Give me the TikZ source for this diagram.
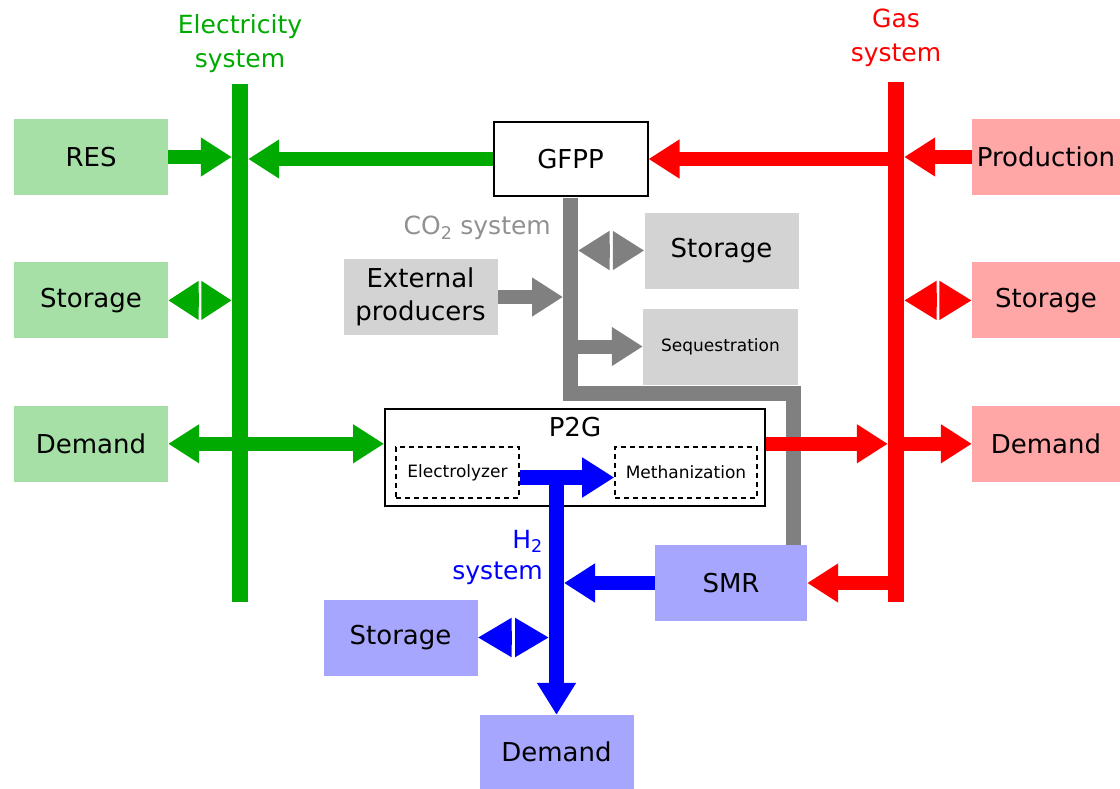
\documentclass[tikz,border=0pt]{standalone}
\usepackage{fontspec}
\setmainfont{DejaVu Sans}
\usetikzlibrary{positioning, calc, arrows.meta}
\definecolor{elgreen}{RGB}{0,170,0}
\definecolor{elbox}{RGB}{166,224,166}
\definecolor{gasred}{RGB}{255,0,0}
\definecolor{gasbox}{RGB}{255,166,166}
\definecolor{h2blue}{RGB}{0,0,255}
\definecolor{h2box}{RGB}{166,166,255}
\definecolor{co2gray}{RGB}{128,128,128}
\definecolor{co2box}{RGB}{211,211,211}
\definecolor{co2text}{RGB}{145,145,145}

\begin{document}
\begin{tikzpicture}
        [
            x=1pt, y=-1pt,
            box/.style={rectangle, minimum width=154pt, minimum height=76pt,
                        inner sep=0pt, font=\fontsize{26}{33}\selectfont},
            unit/.style={box, draw, line width=2pt, fill=white},
            sub/.style={rectangle, draw, dash pattern=on 5pt off 4pt, line width=1.6pt,
                        inner sep=0pt, minimum height=51pt, font=\fontsize{17}{20}\selectfont},
            bus/.style={rectangle, minimum width=16pt, inner sep=0pt},
            sys/.style={align=center, inner sep=0pt, font=\fontsize{25}{34}\selectfont},
            flow/.style={line width=14pt, -{Triangle[length=31pt, width=37pt]}},
            both/.style={line width=14pt, {Triangle[length=31pt, width=37pt]}-{Triangle[length=31pt, width=37pt]}}
        ]
        \useasboundingbox (0,0) rectangle (1120,788);
        % electricity
        \node (elbus) [bus, fill=elgreen, minimum height=518pt] at (240,343) {};
        \node (elsys) [sys, text=elgreen] at (240,44) {Electricity\\system};
        \node (res) [box, fill=elbox] at (91,157) {RES};
        \node (elsto) [box, fill=elbox, below=67pt of res] {Storage};
        \node (eldem) [box, fill=elbox, below=67pt of elsto] {Demand};
        % gas
        \node (gasbus) [bus, fill=gasred, minimum height=520pt] at (896,342) {};
        \node (gassys) [sys, text=gasred] at (896,38) {Gas\\system};
        \node (prod) [box, fill=gasbox, minimum width=148pt] at (1046,157) {Production};
        \node (gassto) [box, fill=gasbox, minimum width=148pt, below=67pt of prod] {Storage};
        \node (gasdem) [box, fill=gasbox, minimum width=148pt, below=67pt of gassto] {Demand};
        % conversion
        \node (gfpp) [unit, minimum height=74pt] at (570.5,159) {GFPP};
        \node (p2g) [unit, minimum width=380pt, minimum height=97pt] at (575,457.5) {};
        \node (p2glbl) [below=9pt of p2g.north, inner sep=0pt, font=\fontsize{26}{33}\selectfont] {P2G};
        \node (elyz) [sub, minimum width=123pt] at (457.5,472.5) {Electrolyzer};
        \node (meth) [sub, minimum width=142pt] at (686,472.5) {Methanization};
        \node (smr) [box, fill=h2box, minimum width=152pt] at (731,583) {SMR};
        % co2
        \node (co2sys) [sys, text=co2text, anchor=east] at (551,228) {CO\textsubscript{2} system};
        \node (co2sto) [box, fill=co2box] at (721.5,250.5) {Storage};
        \node (ext) [box, fill=co2box, align=center] at (420.5,297) {External\\producers};
        \node (seq) [box, fill=co2box, minimum width=155pt, font=\fontsize{17}{20}\selectfont] at (720.5,346.5) {Sequestration};
        % h2
        \node (h2sys) [sys, text=h2blue, align=right, anchor=east, font=\fontsize{25}{31}\selectfont] at (543,557) {H\textsubscript{2}\\system};
        \node (h2sto) [box, fill=h2box] at (400.5,637.5) {Storage};
        \node (h2dem) [box, fill=h2box, minimum height=74pt] at (556.5,752) {Demand};

        \coordinate (co2w) at ($(gfpp.south)+(-7.5,0)$);
        \coordinate (co2e) at ($(gfpp.south)+(7.5,0)$);
        \coordinate (co2bend) at ($(smr.north east)+(-13.5,-151)$);
        \coordinate (h2w) at ($(h2dem.north)+(-7.5,0)$);
        \coordinate (h2e) at ($(h2dem.north)+(7.5,0)$);

        \draw [co2gray, line width=15pt, shorten <=1pt] (gfpp.south) |- (co2bend) -- (co2bend |- smr.north);

        \draw [flow, elgreen] (res.east) -- (res.east -| elbus.west);
        \draw [flow, elgreen] (gfpp.west) -- (gfpp.west -| elbus.east);
        \draw [both, elgreen] (eldem.east) -- (eldem.east -| p2g.west);

        \draw [flow, gasred] (prod.west) -- (prod.west -| gasbus.east);
        \draw [flow, gasred] (gfpp.east -| gasbus) -- (gfpp.east);
        \draw [flow, gasred] (gasdem.west -| p2g.east) -- (gasdem.west -| gasbus.west);
        \draw [flow, gasred] (gasdem.west -| gasbus.east) -- (gasdem.west);
        \draw [flow, gasred] (smr.east -| gasbus) -- (smr.east);

        \draw [flow, co2gray] (ext.east) -- (ext.east -| co2w);
        \draw [flow, co2gray] (seq.west -| gfpp.south) -- (seq.west);

        \draw [h2blue, line width=15pt, -{Triangle[length=32pt, width=38pt]}]
            ([yshift=-5pt]elyz.east) -- ([yshift=-5pt]meth.west);
        \draw [h2blue, line width=15pt, -{Triangle[length=32pt, width=37pt]}]
            (h2dem.north |- elyz.east) -- (h2dem.north);
        \draw [flow, h2blue] (smr.west) -- (smr.west -| h2e);

        % two-way links: heads meet back to back
        \foreach \p/\q/\c/\l in {elsto.east/elsto.east -| elbus.west/elgreen/30.5,
                                 gassto.west/gassto.west -| gasbus.east/gasred/32.5,
                                 co2sto.west/co2sto.west -| co2e/co2gray/31.5,
                                 h2sto.east/h2sto.east -| h2w/h2blue/34} {
            \coordinate (mid) at ($(\p)!.5!(\q)$);
            \draw [\c, line width=14pt, -{Triangle[length=\l pt, width=37pt]}, shorten <=1.5pt] (mid) -- (\p);
            \draw [\c, line width=14pt, -{Triangle[length=\l pt, width=37pt]}, shorten <=1.5pt] (mid) -- (\q);
        }
    \end{tikzpicture}
\end{document}
